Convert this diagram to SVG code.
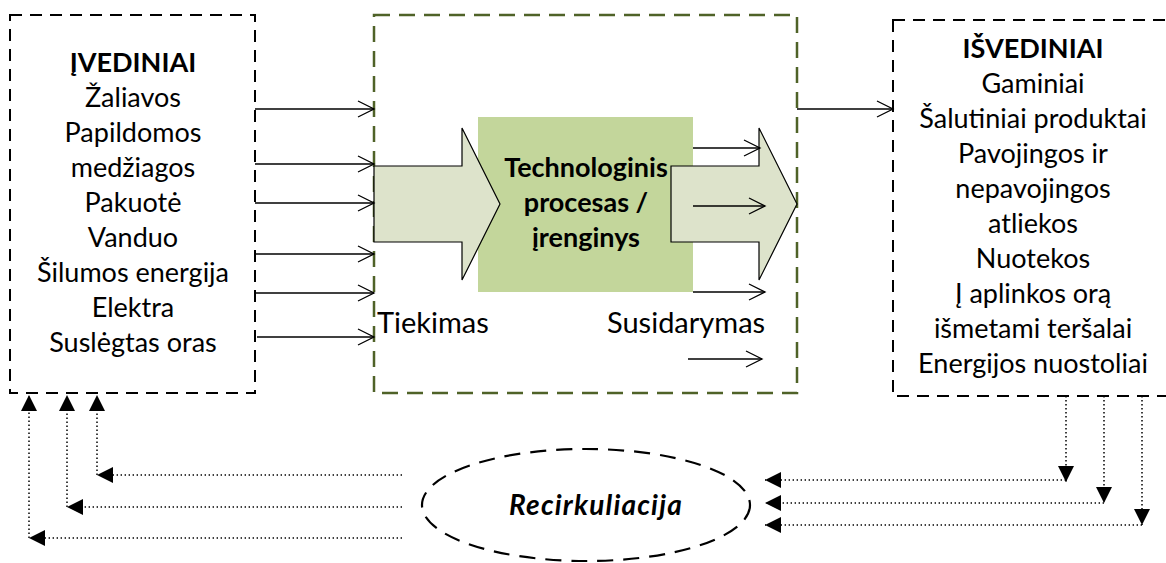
<svg xmlns="http://www.w3.org/2000/svg" width="1166" height="563" viewBox="0 0 1166 563">
<style>
.box{fill:none;stroke:#000;stroke-width:2;stroke-dasharray:12 8}
.gbox{fill:none;stroke:#4F6228;stroke-width:2.5;stroke-dasharray:16 9}
.t{font-family:Lato,"Liberation Sans",sans-serif;font-size:27px;fill:#000;text-anchor:middle}
.b{font-weight:bold}
.ln{stroke:#000;stroke-width:1.3;fill:none;marker-end:url(#open)}
.dot{stroke:#000;stroke-width:1.5;fill:none;stroke-dasharray:1.4 2.6}
.darr{stroke:#000;stroke-width:1.5;fill:none;stroke-dasharray:1.4 2.6;marker-end:url(#tri)}
.barrow{fill:#DDE3CB;stroke:#000;stroke-width:1.2}
</style>
<defs>
<marker id="open" markerUnits="userSpaceOnUse" markerWidth="20" markerHeight="20" refX="17" refY="9" orient="auto">
<path d="M1,1 L17,9 L1,17" fill="none" stroke="#000" stroke-width="1.3"/>
</marker>
<marker id="tri" markerUnits="userSpaceOnUse" markerWidth="20" markerHeight="20" refX="16" refY="8" orient="auto">
<path d="M0,0 L16,8 L0,16 Z" fill="#000"/>
</marker>
</defs>

<g id="inputs">
<rect class="box" x="10" y="15" width="245" height="378"/>
<text class="t b" x="133" y="72">ĮVEDINIAI</text>
<text class="t" x="133" y="107">Žaliavos</text>
<text class="t" x="133" y="142">Papildomos</text>
<text class="t" x="133" y="177">medžiagos</text>
<text class="t" x="133" y="212">Pakuotė</text>
<text class="t" x="133" y="247">Vanduo</text>
<text class="t" x="133" y="282">Šilumos energija</text>
<text class="t" x="133" y="317">Elektra</text>
<text class="t" x="133" y="352">Suslėgtas oras</text>
</g>

<g id="process-boundary">
<rect class="gbox" x="374" y="15" width="423" height="378"/>
</g>

<g id="process">
<rect x="478" y="117" width="215" height="175" fill="#C3D69B"/>
</g>

<g id="supply-arrow">
<path class="barrow" d="M374,166 L462,166 L462,128 L500,204 L462,280 L462,242 L374,242 Z"/>
</g>
<g id="formation-arrow">
<path class="barrow" d="M671,166 L759,166 L759,128 L797,204 L759,280 L759,242 L671,242 Z"/>
</g>

<g id="process-label">
<text class="t b" x="586" y="177">Technologinis</text>
<text class="t b" x="586" y="212">procesas /</text>
<text class="t b" x="586" y="247">įrenginys</text>
</g>

<g id="labels">
<text class="t" x="377" y="333" style="text-anchor:start;font-size:29px">Tiekimas</text>
<text class="t" x="607" y="333" style="text-anchor:start;font-size:29px">Susidarymas</text>
</g>

<g id="outputs">
<rect class="box" x="893" y="20" width="290" height="376"/>
<text class="t b" x="1033" y="58">IŠVEDINIAI</text>
<text class="t" x="1033" y="93">Gaminiai</text>
<text class="t" x="1033" y="128">Šalutiniai produktai</text>
<text class="t" x="1033" y="163">Pavojingos ir</text>
<text class="t" x="1033" y="198">nepavojingos</text>
<text class="t" x="1033" y="233">atliekos</text>
<text class="t" x="1033" y="268">Nuotekos</text>
<text class="t" x="1033" y="303">Į aplinkos orą</text>
<text class="t" x="1033" y="338">išmetami teršalai</text>
<text class="t" x="1033" y="373">Energijos nuostoliai</text>
</g>

<g id="recirculation">
<ellipse cx="586" cy="505" rx="164" ry="56" fill="none" stroke="#000" stroke-width="2.2" stroke-dasharray="16 10"/>
<text class="t b" x="596" y="515" style="font-style:italic;font-size:28px;letter-spacing:1.2px">Recirkuliacija</text>
</g>

<g id="connectors">
<line class="ln" x1="255" y1="109" x2="374" y2="109"/>
<line class="ln" x1="255" y1="164" x2="374" y2="164"/>
<line class="ln" x1="255" y1="203" x2="374" y2="203"/>
<line class="ln" x1="255" y1="254" x2="374" y2="254"/>
<line class="ln" x1="255" y1="293" x2="374" y2="293"/>
<line class="ln" x1="257" y1="337" x2="374" y2="337"/>
<line class="ln" x1="797" y1="109" x2="893" y2="109"/>
<line class="ln" x1="693" y1="148" x2="760" y2="148"/>
<line class="ln" x1="693" y1="206" x2="765" y2="206"/>
<line class="ln" x1="693" y1="292" x2="765" y2="292"/>
<line class="ln" x1="688" y1="359" x2="762" y2="359"/>

<line class="dot" x1="402" y1="475" x2="112" y2="475"/>
<polygon points="97,475 113,467 113,483" fill="#000"/>
<line class="darr" x1="97" y1="475" x2="97" y2="395"/>
<line class="dot" x1="402" y1="507" x2="82" y2="507"/>
<polygon points="67,507 83,499 83,515" fill="#000"/>
<line class="darr" x1="67" y1="507" x2="67" y2="395"/>
<line class="dot" x1="402" y1="538" x2="44" y2="538"/>
<polygon points="29,538 45,530 45,546" fill="#000"/>
<line class="darr" x1="29" y1="538" x2="29" y2="395"/>

<line class="darr" x1="1066" y1="396" x2="1066" y2="482"/>
<line class="darr" x1="1066" y1="480" x2="765" y2="480"/>
<line class="darr" x1="1104" y1="396" x2="1104" y2="503"/>
<line class="darr" x1="1104" y1="503" x2="765" y2="503"/>
<line class="darr" x1="1142" y1="396" x2="1142" y2="525"/>
<line class="darr" x1="1142" y1="525" x2="765" y2="525"/>
</g>
</svg>
